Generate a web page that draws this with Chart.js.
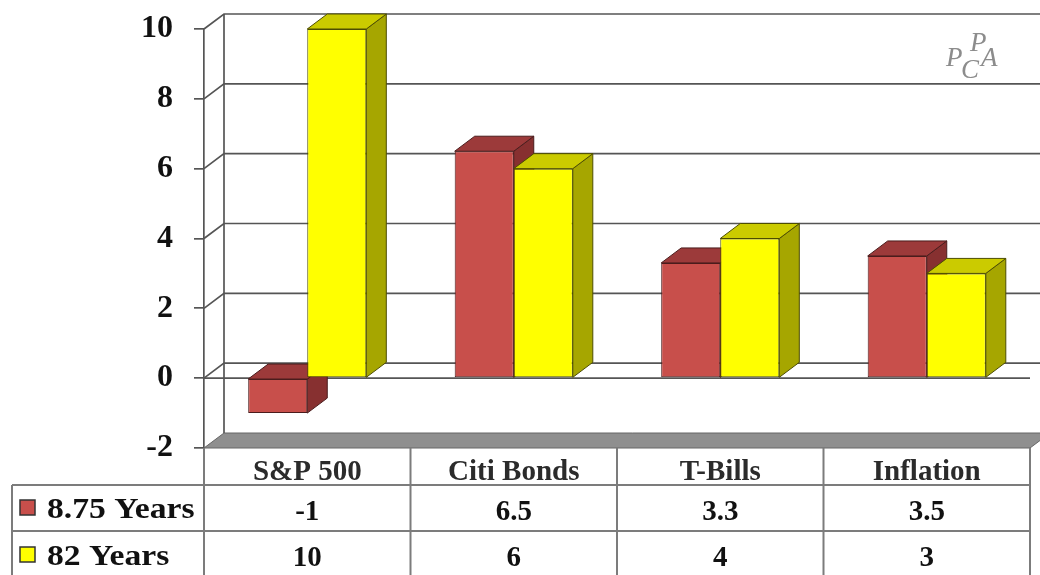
<!DOCTYPE html>
<html>
<head>
<meta charset="utf-8">
<script src="https://cdn.jsdelivr.net/npm/chart.js@4.4.1/dist/chart.umd.min.js"></script>
<style>
  html, body { margin: 0; padding: 0; background: #fff; }
  #wrap { width: 1040px; height: 575px; position: relative; }
</style>
</head>
<body>
<div id="wrap"><canvas id="returnsChart"></canvas></div>
<script>
const categories = ['S&P 500', 'Citi Bonds', 'T-Bills', 'Inflation'];
const seriesNames = ['8.75 Years', '82 Years'];
const recentYears = [-1, 6.5, 3.3, 3.5];
const longYears = [10, 6, 4, 3];
const yMin = -2, yMax = 10, yStep = 2;

const frontColors = ['#c84f4b', '#ffff00'];
const topColors = ['#9c3a3a', '#cbcb00'];
const sideColors = ['#873030', '#a6a600'];
const edgeColors = ['#4a1c1c', '#4d4d00'];

// depth offset of the fake 3D box
const DX = 20, DY = -15;

function poly(ctx, pts, fill, stroke) {
    ctx.beginPath();
    ctx.moveTo(pts[0][0], pts[0][1]);
    for (let i = 1; i < pts.length; i++) ctx.lineTo(pts[i][0], pts[i][1]);
    ctx.closePath();
    if (fill) { ctx.fillStyle = fill; ctx.fill(); }
    if (stroke) { ctx.strokeStyle = stroke; ctx.lineWidth = 1; ctx.stroke(); }
}

const box3d = {
    id: 'box3d',
    beforeDatasetsDraw(chart) {
        const ctx = chart.ctx;
        const { left, right, top, bottom } = chart.chartArea;
        const y = chart.scales.y;
        ctx.save();

        // floor
        poly(ctx, [[left, bottom], [right, bottom], [right + DX, bottom + DY], [left + DX, bottom + DY]], '#8f8f8f', '#666');

        // back wall + left wall grid
        ctx.strokeStyle = '#555';
        ctx.lineWidth = 1.7;
        for (let v = yMin + yStep; v <= yMax; v += yStep) {
            const py = y.getPixelForValue(v);
            ctx.beginPath();
            ctx.moveTo(left, py);
            ctx.lineTo(left + DX, py + DY);
            ctx.lineTo(right + DX + 20, py + DY);
            ctx.stroke();
        }
        ctx.beginPath();
        ctx.moveTo(left + DX, top + DY);
        ctx.lineTo(left + DX, bottom + DY);
        ctx.stroke();

        // front edge of zero plane
        const p0 = y.getPixelForValue(0);
        ctx.beginPath();
        ctx.moveTo(left, p0);
        ctx.lineTo(right, p0);
        ctx.stroke();

        // top and side faces of the bars
        chart.data.datasets.forEach((ds, di) => {
            chart.getDatasetMeta(di).data.forEach(bar => {
                const l = bar.x - bar.width / 2, r = bar.x + bar.width / 2;
                const t = Math.min(bar.y, bar.base), b = Math.max(bar.y, bar.base);
                poly(ctx, [[r, t], [r + DX, t + DY], [r + DX, b + DY], [r, b]], sideColors[di], edgeColors[di]);
                poly(ctx, [[l, t], [r, t], [r + DX, t + DY], [l + DX, t + DY]], topColors[di], edgeColors[di]);
            });
        });
        ctx.restore();
    },
    afterDraw(chart) {
        const ctx = chart.ctx;
        const { left, right, bottom } = chart.chartArea;
        const x = chart.scales.x;
        const H = chart.height;
        const tableLeft = 12;
        const row1 = 485, row2 = 531;
        const catW = (right - left) / categories.length;
        ctx.save();

        // table grid
        ctx.strokeStyle = '#7c7c7c';
        ctx.lineWidth = 2;
        ctx.beginPath();
        for (let i = 0; i <= categories.length; i++) {
            const cx = left + i * catW;
            ctx.moveTo(cx, bottom);
            ctx.lineTo(cx, H);
        }
        ctx.moveTo(tableLeft, row1); ctx.lineTo(right, row1);
        ctx.moveTo(tableLeft, row2); ctx.lineTo(right, row2);
        ctx.moveTo(tableLeft, row1); ctx.lineTo(tableLeft, H);
        ctx.stroke();

        // category header
        ctx.textAlign = 'center';
        ctx.textBaseline = 'alphabetic';
        ctx.fillStyle = '#2b2b2b';
        ctx.font = 'bold 29px "Liberation Serif", "Times New Roman", serif';
        categories.forEach((c, i) => {
            ctx.fillText(c, x.getPixelForValue(i), 480);
        });

        // values
        ctx.fillStyle = '#111';
        ctx.font = 'bold 29px "Liberation Serif", "Times New Roman", serif';
        [recentYears, longYears].forEach((vals, ri) => {
            const base = ri === 0 ? 520 : 566;
            vals.forEach((v, i) => {
                ctx.fillText(String(v), x.getPixelForValue(i), base);
            });
        });

        // legend keys in the table
        ctx.textAlign = 'left';
        seriesNames.forEach((name, ri) => {
            const sy = ri === 0 ? 500 : 547;
            ctx.fillStyle = frontColors[ri];
            ctx.fillRect(20, sy, 15, 15);
            ctx.strokeStyle = '#333';
            ctx.lineWidth = 1.5;
            ctx.strokeRect(20, sy, 15, 15);
            ctx.save();
            ctx.translate(47, ri === 0 ? 518 : 565);
            ctx.scale(1.16, 1);
            ctx.fillStyle = '#111';
            ctx.font = 'bold 29px "Liberation Serif", "Times New Roman", serif';
            ctx.fillText(name, 0, 0);
            ctx.restore();
        });

        // PCPA mark
        ctx.fillStyle = '#8c8c8c';
        ctx.font = 'italic 27px "Liberation Serif", serif';
        ctx.fillText('P', 946, 66);
        ctx.fillText('C', 961, 78);
        ctx.fillText('P', 970, 51);
        ctx.fillText('A', 981, 66);
        ctx.restore();
    }
};

new Chart(document.getElementById('returnsChart'), {
    type: 'bar',
    data: {
        labels: categories,
        datasets: [
            {
                label: seriesNames[0],
                data: recentYears,
                backgroundColor: frontColors[0],
                borderColor: edgeColors[0],
                borderWidth: 1,
                borderSkipped: false
            },
            {
                label: seriesNames[1],
                data: longYears,
                backgroundColor: frontColors[1],
                borderColor: edgeColors[1],
                borderWidth: 1,
                borderSkipped: false
            }
        ]
    },
    options: {
        responsive: true,
        maintainAspectRatio: false,
        animation: false,
        layout: { padding: { top: 29, bottom: 127, right: 10, left: 0 } },
        datasets: { bar: { categoryPercentage: 0.572, barPercentage: 1 } },
        plugins: { legend: { display: false }, tooltip: { enabled: false } },
        scales: {
            x: { display: false },
            y: {
                min: yMin,
                max: yMax,
                afterFit: s => {
                    s.width = 204;
                    s.paddingTop = 0;
                    s.paddingBottom = 0;
                },
                ticks: {
                    stepSize: yStep,
                    padding: 21,
                    color: '#111',
                    font: { family: '"Liberation Serif", "Times New Roman", serif', size: 32, weight: 'bold' }
                },
                grid: { drawOnChartArea: false, drawTicks: true, tickLength: 10, color: '#555', lineWidth: 1.7 },
                border: { display: true, color: '#555', width: 1.7 }
            }
        }
    },
    plugins: [box3d]
});
</script>
</body>
</html>
